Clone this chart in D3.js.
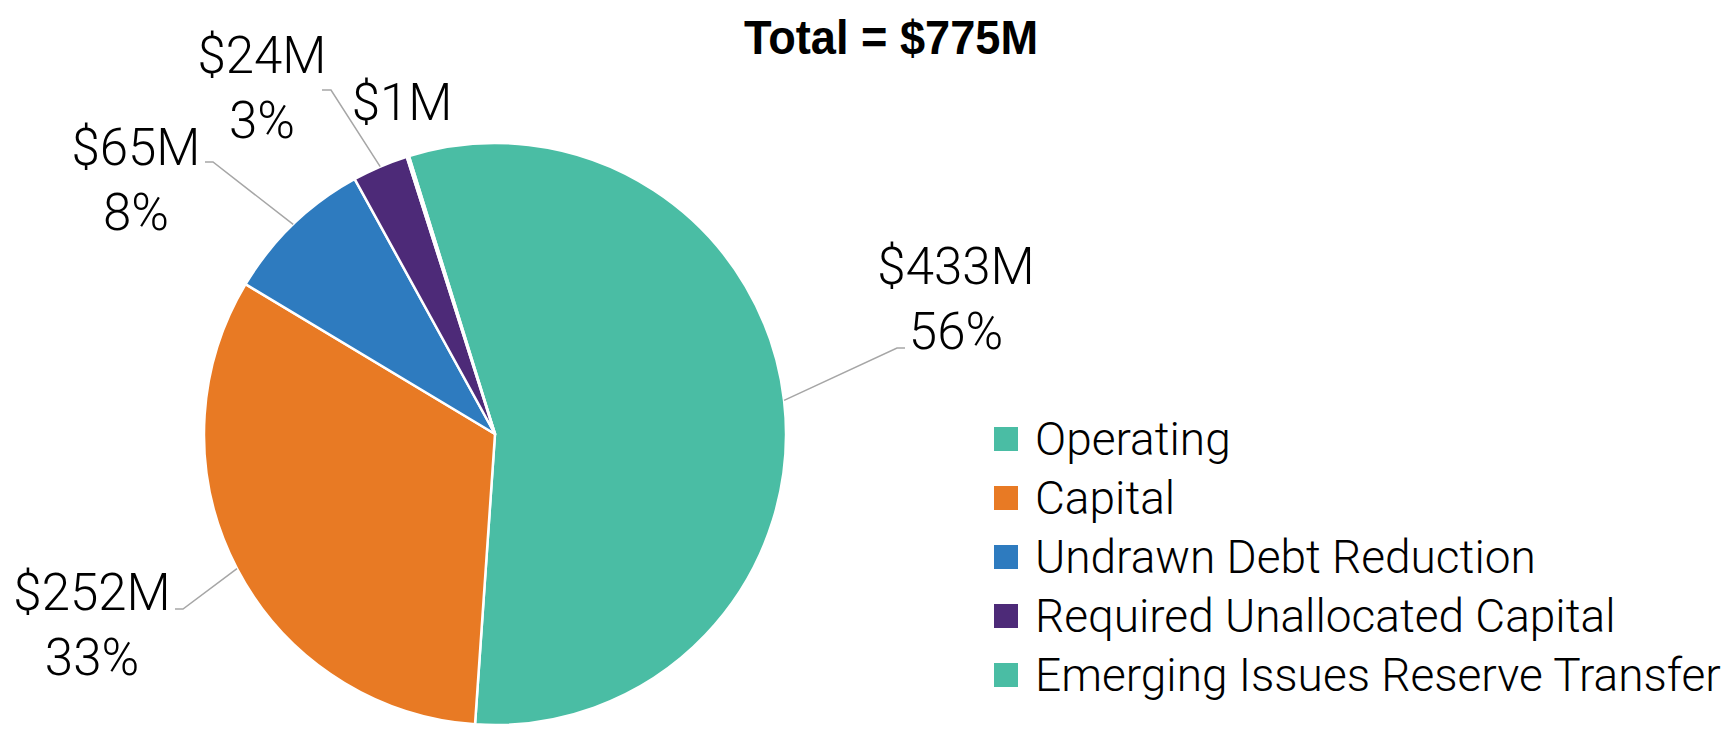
<!DOCTYPE html>
<html>
<head>
<meta charset="utf-8">
<script src="https://cdn.jsdelivr.net/npm/d3@7"></script>
<style>
  body { margin: 0; background: #fff; }
  svg text { font-family: Roboto, "Liberation Sans", sans-serif; fill: #000; }
</style>
</head>
<body>
<div id="chart"></div>
<script>
// data
const categories = ['Operating', 'Capital', 'Undrawn Debt Reduction', 'Required Unallocated Capital', 'Emerging Issues Reserve Transfer'];
const values = [433, 252, 65, 24, 1];
const valueLabels = ['$433M', '$252M', '$65M', '$24M', '$1M'];
const percentLabels = ['56%', '33%', '8%', '3%', ''];
const colors = ['#4abda4', '#e87a24', '#2e7bbf', '#4d2a78', '#4abda4'];
const titleText = 'Total = $775M';

// layout (label anchors and leader elbows), pixels
const labelPos = [
    { x: 956, y: 284, elbow: [[905, 348], [897, 348]] },
    { x: 92, y: 610, elbow: [[175, 609], [183, 609]] },
    { x: 136, y: 165, elbow: [[205, 162], [213, 162]] },
    { x: 262, y: 73, elbow: [[322, 90], [331, 90]] },
    { x: 402, y: 120, elbow: null }
];

const width = 1733, height = 736;
const cx = 495, cy = 434, radius = 291;
const startDeg = -17.2;

const svg = d3.select('#chart').append('svg')
    .attr('width', width)
    .attr('height', height);

const pie = d3.pie()
    .sort(null)
    .value(d => d)
    .startAngle(startDeg * Math.PI / 180)
    .endAngle((startDeg + 360) * Math.PI / 180);

const arcs = pie(values);
const arc = d3.arc().innerRadius(0).outerRadius(radius);
const edgeArc = d3.arc().innerRadius(radius).outerRadius(radius);

const g = svg.append('g').attr('transform', `translate(${cx},${cy})`);

g.selectAll('path.slice')
    .data(arcs)
    .enter()
    .append('path')
    .attr('class', 'slice')
    .attr('d', arc)
    .attr('fill', (d, i) => colors[i])
    .attr('stroke', '#fff')
    .attr('stroke-width', 2.5)
    .attr('stroke-linejoin', 'round');

// leader lines
arcs.forEach((d, i) => {
    const p = labelPos[i];
    if (!p.elbow) return;
    const c = edgeArc.centroid(d);
    const pts = [p.elbow[0], p.elbow[1], [c[0] + cx, c[1] + cy]];
    svg.append('path')
        .attr('d', d3.line()(pts))
        .attr('fill', 'none')
        .attr('stroke', '#a6a6a6')
        .attr('stroke-width', 1.5);
});

// data labels
arcs.forEach((d, i) => {
    const p = labelPos[i];
    const t = svg.append('text')
        .attr('x', p.x)
        .attr('y', p.y)
        .attr('text-anchor', 'middle')
        .style('font-size', '51px')
        .style('font-weight', 300);
    t.append('tspan').attr('x', p.x).text(valueLabels[i]);
    if (percentLabels[i]) {
        t.append('tspan').attr('x', p.x).attr('dy', 65).text(percentLabels[i]);
    }
});

// title, condensed bold
svg.append('text')
    .attr('x', 891)
    .attr('y', 54)
    .attr('text-anchor', 'middle')
    .attr('textLength', 294)
    .attr('lengthAdjust', 'spacingAndGlyphs')
    .style('font-family', '"Liberation Sans", sans-serif')
    .style('font-size', '49px')
    .style('font-weight', 'bold')
    .text(titleText);

// legend
const legend = svg.append('g').attr('transform', 'translate(994,439)');
const item = legend.selectAll('g')
    .data(categories)
    .enter()
    .append('g')
    .attr('transform', (d, i) => `translate(0,${i * 59})`);

item.append('rect')
    .attr('x', 0)
    .attr('y', -12)
    .attr('width', 24)
    .attr('height', 24)
    .attr('fill', (d, i) => colors[i]);

item.append('text')
    .attr('x', 41)
    .attr('y', 16)
    .style('font-size', '46px')
    .style('font-weight', 300)
    .text(d => d);
</script>
</body>
</html>
